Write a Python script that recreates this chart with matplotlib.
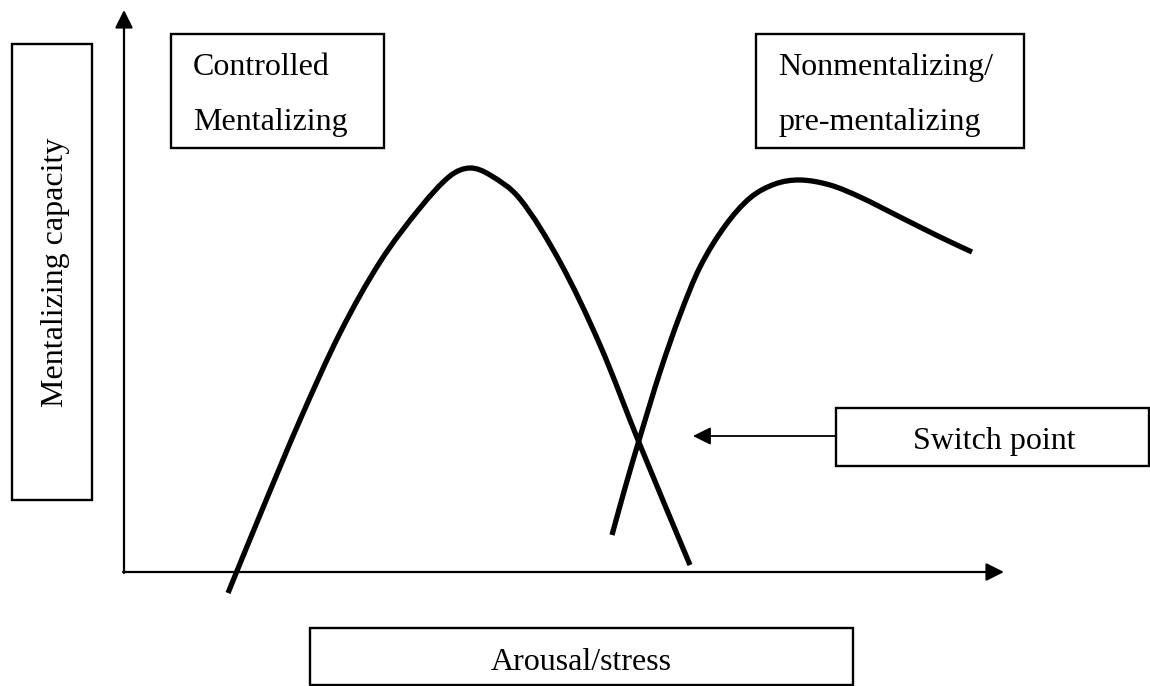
import matplotlib.pyplot as plt
from matplotlib.patches import Rectangle, PathPatch
from matplotlib.path import Path

# curve points (pixel coords, y down)
controlled_x = [228, 260, 300, 340, 380, 420, 450, 470, 490, 520, 560, 600, 640, 690]
controlled_y = [593, 515, 420, 333, 262, 208, 176, 168, 175, 199, 262, 345, 445, 565]

nonment_x = [612, 625, 640, 660, 680, 700, 725, 750, 775, 800, 830, 860, 900, 940, 972]
nonment_y = [535, 488, 437, 372, 315, 267, 226, 198, 184, 180, 185, 197, 217, 237, 252]

box_labels = ['Controlled\nMentalizing', 'Nonmentalizing/\npre-mentalizing']
y_label = 'Mentalizing capacity'
x_label = 'Arousal/stress'
switch_label = 'Switch point'

plt.rcParams['font.family'] = ['Liberation Serif', 'DejaVu Serif']

fig = plt.figure(figsize=(11.5, 6.86), dpi=100)
ax = fig.add_axes([0, 0, 1, 1])
ax.set_xlim(0, 1150)
ax.set_ylim(686, 0)
ax.axis('off')

arrow = dict(arrowstyle='-|>', color='black', lw=1.6, mutation_scale=27, shrinkA=0, shrinkB=0)

# axes
ax.annotate('', xy=(124, 10), xytext=(124, 573), arrowprops=arrow)
ax.annotate('', xy=(1004, 572), xytext=(123, 572), arrowprops=arrow)


def smooth_curve(xs, ys):
    # bezier segments through the read points, slopes taken from neighbours
    n = len(xs)
    m = []
    for i in range(n):
        a = max(i - 1, 0)
        b = min(i + 1, n - 1)
        m.append((ys[b] - ys[a]) / (xs[b] - xs[a]))
    verts = [(xs[0], ys[0])]
    codes = [Path.MOVETO]
    for i in range(n - 1):
        h = (xs[i + 1] - xs[i]) / 3
        verts += [(xs[i] + h, ys[i] + h * m[i]),
                  (xs[i + 1] - h, ys[i + 1] - h * m[i + 1]),
                  (xs[i + 1], ys[i + 1])]
        codes += [Path.CURVE4] * 3
    ax.add_patch(PathPatch(Path(verts, codes), fill=False, ec='black', lw=3.8, capstyle='butt'))


smooth_curve(controlled_x, controlled_y)
smooth_curve(nonment_x, nonment_y)


def box(x0, y0, x1, y1):
    ax.add_patch(Rectangle((x0, y0), x1 - x0, y1 - y0, fill=False, ec='black', lw=1.7))

fs = 23

# y label box
box(12, 44, 92, 500)
ax.text(56, 272, y_label, rotation=90, ha='center', va='center', fontsize=fs)

# top boxes
box(171, 34, 384, 148)
ax.text(193, 75, box_labels[0].split('\n')[0], fontsize=fs, va='baseline')
ax.text(193, 130, box_labels[0].split('\n')[1], fontsize=fs, va='baseline')

box(756, 34, 1024, 148)
ax.text(778, 75, box_labels[1].split('\n')[0], fontsize=fs, va='baseline')
ax.text(778, 130, box_labels[1].split('\n')[1], fontsize=fs, va='baseline')

# switch point
box(836, 408, 1149, 466)
ax.text(994, 449, switch_label, fontsize=fs, ha='center', va='baseline')
ax.annotate('', xy=(693, 436), xytext=(836, 436), arrowprops=dict(arrow, lw=1.3))

# x label box
box(310, 628, 853, 685)
ax.text(581, 670, x_label, fontsize=fs, ha='center', va='baseline')

fig.savefig('out.png', dpi=100)
